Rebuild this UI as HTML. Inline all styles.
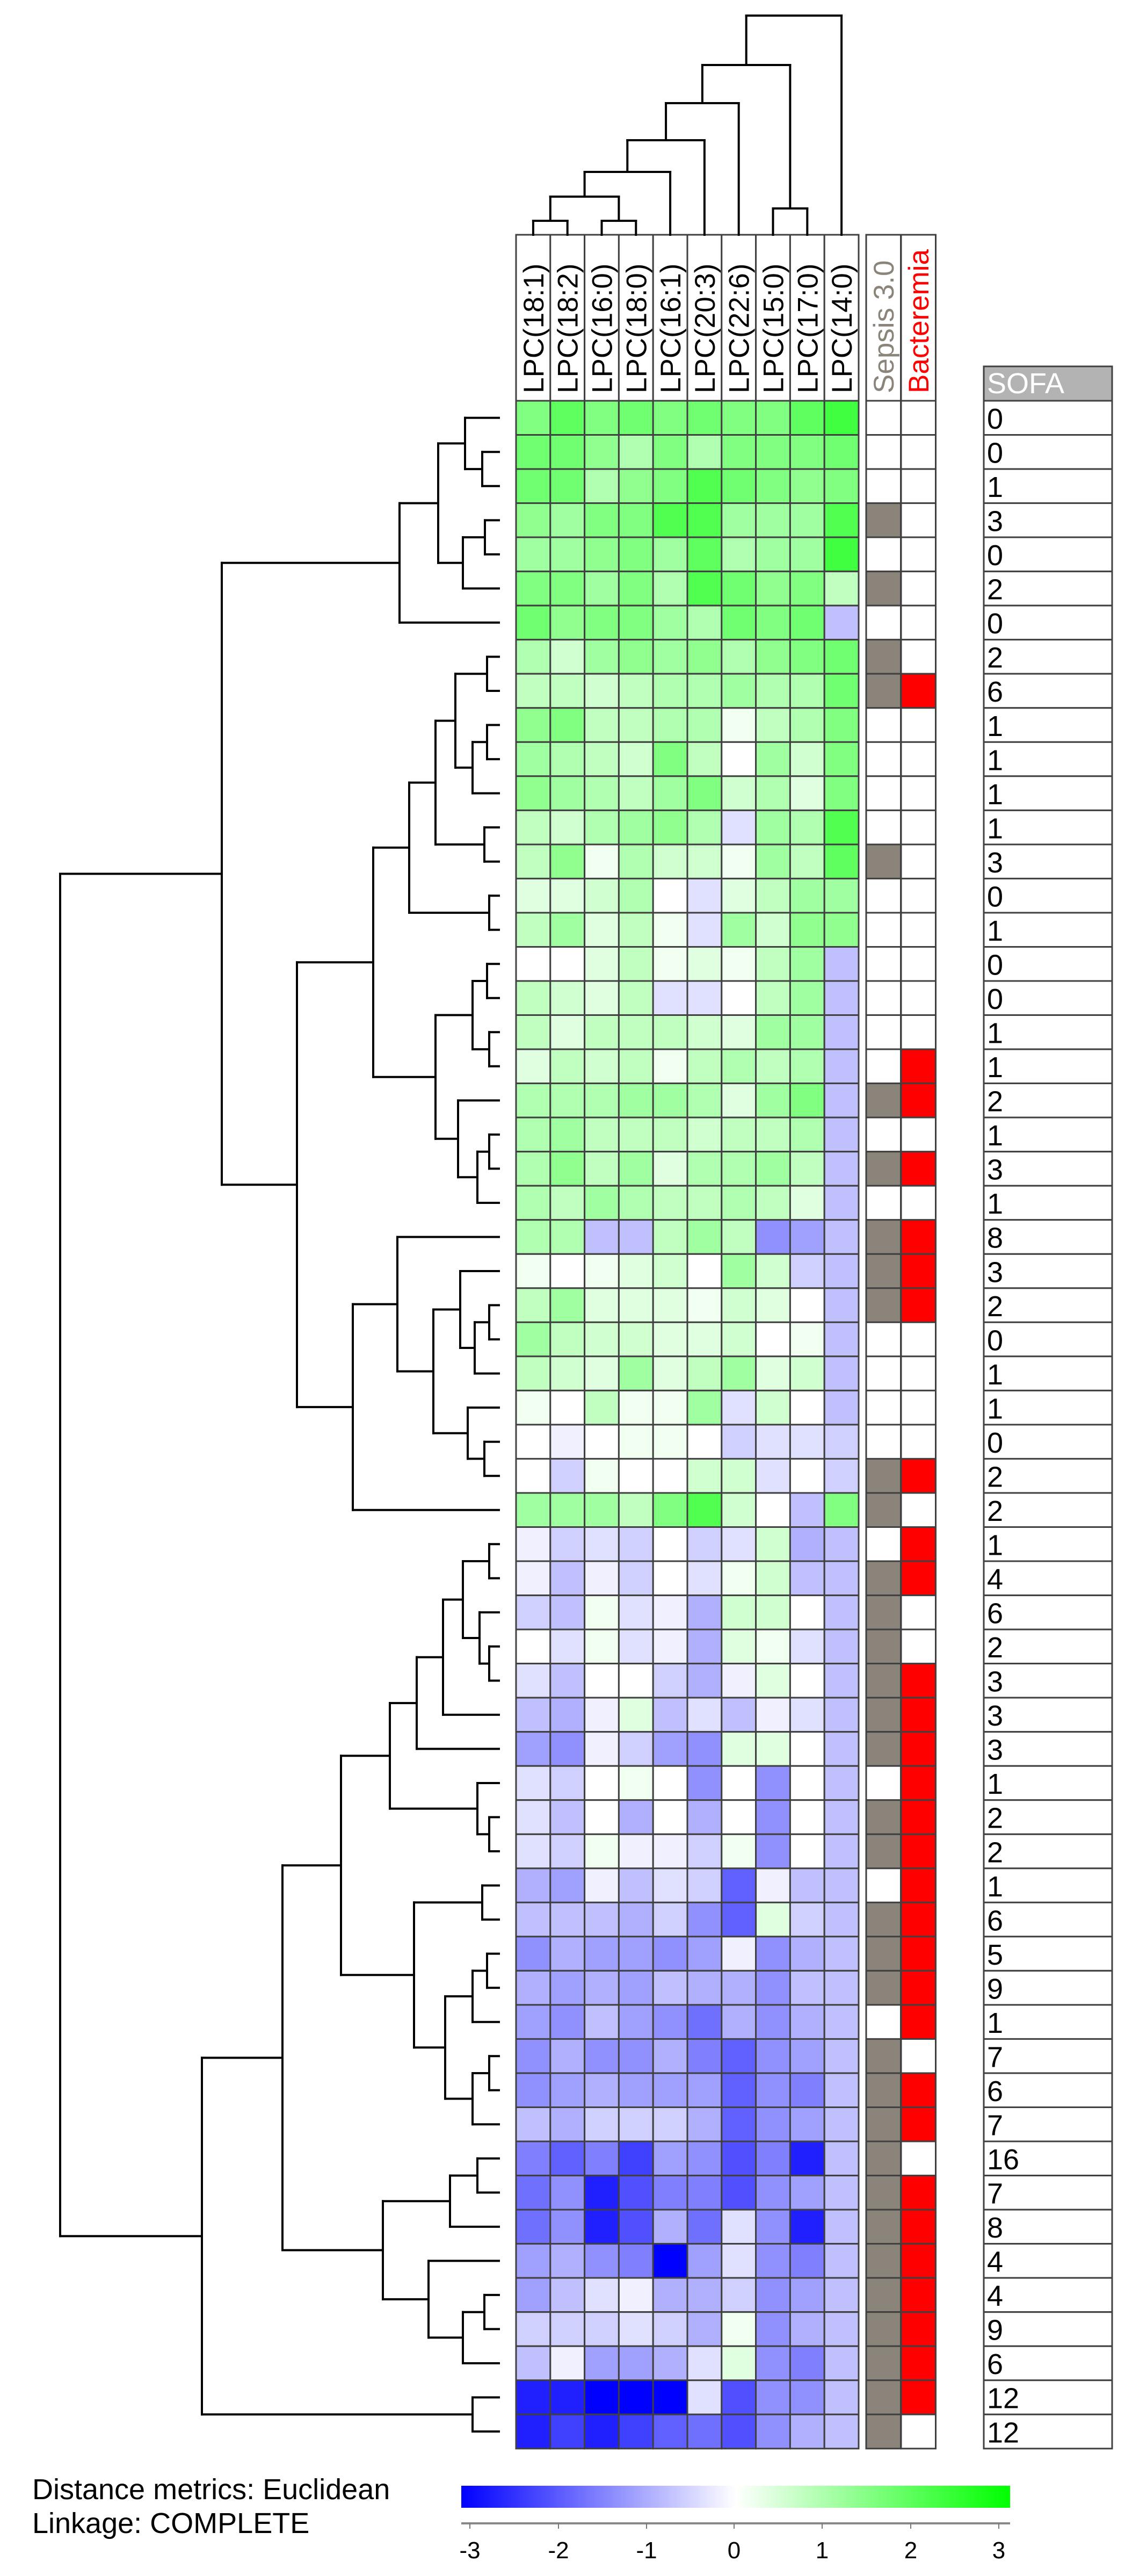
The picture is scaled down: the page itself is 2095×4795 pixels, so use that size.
<!DOCTYPE html>
<html><head><meta charset="utf-8">
<style>
html,body{margin:0;padding:0;background:#fff;}
svg{display:block;}
text{font-family:"Liberation Sans",Arial,sans-serif;}
</style></head>
<body>
<svg id="s" xmlns="http://www.w3.org/2000/svg" width="2095" height="4795" viewBox="0 0 2095 4795"></svg>
<script>
(function(){
var rows=[
"HJHIHIHHJL","IIGEHEHHHI","IIEGHKIHGH","GFHHKKFFFK","FFGHFJEFFL","HHFHEKIGHD","IGHHFEIHId",
"ECFGFGEGHI","DDCDEEFEEI","GHDDEEADEH","FEDCHD0FCH","GFEDFHCEBH","DCEFGEbFEK","DGAECCAFDJ","BBCE0bBDFF",
"DFBDAbFCGG","00BDABADFd","DCBDbb0DFd","DBDDDCBFFd","BDCDADEDEd","EEEFFEBFHd","EFDDDCDDEd","EGDFBEEFDd",
"EDFEDDEDBd","EEddDFDgfd","A0ABC0FCcd","DFBBBACB0d","FDCCBBC0Ad","DCBFBDFBCd","A0DAAFbC0d",
"0a0AA0cbbc","0cA00CCb0c","FFFDHKC0dH","acbc0cbCed","adac0bACdd","cdAbaeCC0d","0bAbaeBAbd","bd00ceaB0d",
"deaBdbdabd","fgacfgBB0d","bc0A0g0g0d","bd0e0e0g0d","bcAaacAg0d","efadbcjadd","dddecgjBcd",
"geffgfaged","efefdeegdd","fgdfgieged","geggehjgfd","gfefffjghd","decccejgfd","hjhlfgkhmd",
"igmkhhkgfd","igmkeibgmd","feghnfbghd","fdbaeecgfd","cccbceAged","daffebBghd","mmnnnbkggd","mlmljikged"];
var sep="0001010110000100000101010110000111011111111111111111111111".split("");
var bact="0000000010000000000110101110000110110111111111101101111110".split("");
// explicit lists
var S=[3,5,7,8,13,20,22,24,25,26,31,32,34,35,36,37,38,39,41,42,44,45,46,48,49,50,51,52,53,54,55,56,57,58,59];
var B=[8,19,20,22,24,25,26,31,33,34,37,38,39,40,41,42,43,44,45,46,47,49,50,52,53,54,55,56,57,58];
var sofa=[0,0,1,3,0,2,0,2,6,1,1,1,1,3,0,1,0,0,1,1,2,1,3,1,8,3,2,0,1,1,0,2,2,1,4,6,2,3,3,3,1,2,2,1,6,5,9,1,7,6,7,16,7,8,4,4,9,6,12,12];
var letters="ABCDEFGHIJKLMN", vals=[240,224,208,192,176,160,144,128,112,96,80,64,32,0];
function col(ch){
  if(ch==="0")return "#ffffff";
  var u=ch.toUpperCase(), v=vals[letters.indexOf(u)];
  if(ch===u) return "rgb("+v+",255,"+v+")";
  return "rgb("+v+","+v+",255)";
}
var X0=961, CW=63.8, Y0=746, RH=63.53, N=60;
var o=[];
// heatmap cells
for(var r=0;r<N;r++){
  for(var c=0;c<10;c++){
    o.push('<rect x="'+(X0+c*CW).toFixed(1)+'" y="'+(Y0+r*RH).toFixed(1)+'" width="'+CW+'" height="'+RH+'" fill="'+col(rows[r][c])+'" stroke="#404040" stroke-width="3"/>');
  }
  var sx=1613, bx=1678, w=64.5;
  o.push('<rect x="'+sx+'" y="'+(Y0+r*RH).toFixed(1)+'" width="'+w+'" height="'+RH+'" fill="'+(S.indexOf(r)>=0?"#8b847a":"#fff")+'" stroke="#404040" stroke-width="3"/>');
  o.push('<rect x="'+bx+'" y="'+(Y0+r*RH).toFixed(1)+'" width="'+w+'" height="'+RH+'" fill="'+(B.indexOf(r)>=0?"#ff0000":"#fff")+'" stroke="#404040" stroke-width="3"/>');
  o.push('<rect x="1832" y="'+(Y0+r*RH).toFixed(1)+'" width="239" height="'+RH+'" fill="#fff" stroke="#404040" stroke-width="3"/>');
  o.push('<text x="1838" y="'+(Y0+r*RH+52).toFixed(1)+'" font-size="54" fill="#000">'+sofa[r]+'</text>');
}
// headers
var names=["LPC(18:1)","LPC(18:2)","LPC(16:0)","LPC(18:0)","LPC(16:1)","LPC(20:3)","LPC(22:6)","LPC(15:0)","LPC(17:0)","LPC(14:0)"];
for(var c=0;c<10;c++){
  var x=X0+c*CW;
  o.push('<rect x="'+x.toFixed(1)+'" y="437" width="'+CW+'" height="309" fill="#fff" stroke="#404040" stroke-width="3"/>');
  var cx=x+CW/2+19;
  o.push('<text transform="translate('+cx.toFixed(1)+',732) rotate(-90)" font-size="53" fill="#000">'+names[c]+'</text>');
}
o.push('<rect x="1613" y="437" width="64.5" height="309" fill="#fff" stroke="#404040" stroke-width="3"/>');
o.push('<rect x="1678" y="437" width="64.5" height="309" fill="#fff" stroke="#404040" stroke-width="3"/>');
o.push('<text transform="translate(1664,732) rotate(-90)" font-size="53" fill="#8b847a">Sepsis 3.0</text>');
o.push('<text transform="translate(1729,732) rotate(-90)" font-size="53" fill="#ff0000">Bacteremia</text>');
o.push('<rect x="1832" y="682" width="239" height="64" fill="#b3b3b3" stroke="#404040" stroke-width="3"/>');
o.push('<text x="1838" y="732" font-size="54" fill="#fff">SOFA</text>');
// row dendrogram
var L=[];
function line(x1,y1,x2,y2){L.push('<line x1="'+x1.toFixed(1)+'" y1="'+y1.toFixed(1)+'" x2="'+x2.toFixed(1)+'" y2="'+y2.toFixed(1)+'"/>');}
function drawR(n){
  if(typeof n==="number") return {y:Y0+RH*(n+0.5), x:929};
  var a=drawR(n[1]), b=drawR(n[2]), x=n[0];
  line(x,a.y,x,b.y); line(x,a.y,a.x,a.y); line(x,b.y,b.x,b.y);
  return {y:(a.y+b.y)/2, x:x};
}
var A=[744,[816,[866,0,[898,1,2]],[862,[903,3,4],5]],6];
var B1=[762,[811,[848,[907,7,8],[880,[907,9,10],11]],[902,12,13]],[911,14,15]];
var B2=[811,[880,[907,16,17],[911,18,19]],[853,20,[889,[911,21,22],23]]];
var Bc=[695,B1,B2];
var C=[657,[740,24,[807,[857,25,[884,[911,26,27],28]],[871,29,[902,30,31]]]],32];
var U=[413,A,[553,Bc,C]];
var L1=[726,[776,[825,[862,[911,33,34],[893,35,[911,36,37]]],38],39],[889,40,[911,41,42]]];
var L2=[771,[898,43,44],[829,[880,[907,45,46],47],[880,[911,48,49],50]]];
var L3=[713,[838,[889,51,52],53],[798,54,[862,[902,55,56],57]]];
var Lo=[376,[526,[635,L1,L2],L3],[880,58,59]];
drawR([112,U,Lo]);
// column dendrogram
function drawC(n){
  if(typeof n==="number") return {x:X0+CW*(n+0.5), y:437};
  var a=drawC(n[1]), b=drawC(n[2]), y=n[0];
  line(a.x,y,b.x,y); line(a.x,y,a.x,a.y); line(b.x,y,b.x,b.y);
  return {x:(a.x+b.x)/2, y:y};
}
drawC([29,[121,[192,[261,[320,[366,[411,0,1],[411,2,3]],4],5],6],[388,7,8]],9]);
o.push('<g stroke="#000" stroke-width="4" stroke-linecap="square">'+L.join("")+'</g>');
// legend
o.push('<defs><linearGradient id="cg" x1="0" x2="1" y1="0" y2="0"><stop offset="0" stop-color="#0000ff"/><stop offset="0.5" stop-color="#ffffff"/><stop offset="1" stop-color="#00ff00"/></linearGradient></defs>');
o.push('<rect x="859" y="4627" width="1022" height="41" fill="url(#cg)"/>');
o.push('<line x1="859" y1="4697" x2="1881" y2="4697" stroke="#888" stroke-width="4"/>');
var tx=[875,1040,1204,1367,1531,1696,1860], tl=["-3","-2","-1","0","1","2","3"];
for(var i=0;i<7;i++){
  o.push('<line x1="'+tx[i]+'" y1="4697" x2="'+tx[i]+'" y2="4707" stroke="#777" stroke-width="2"/>');
  o.push('<text x="'+tx[i]+'" y="4762" font-size="44" text-anchor="middle" fill="#000">'+tl[i]+'</text>');
}
o.push('<text x="60" y="4652" font-size="54" fill="#000">Distance metrics: Euclidean</text>');
o.push('<text x="60" y="4715" font-size="54" fill="#000">Linkage: COMPLETE</text>');
document.getElementById("s").innerHTML=o.join("");
})();
</script>
</body></html>
